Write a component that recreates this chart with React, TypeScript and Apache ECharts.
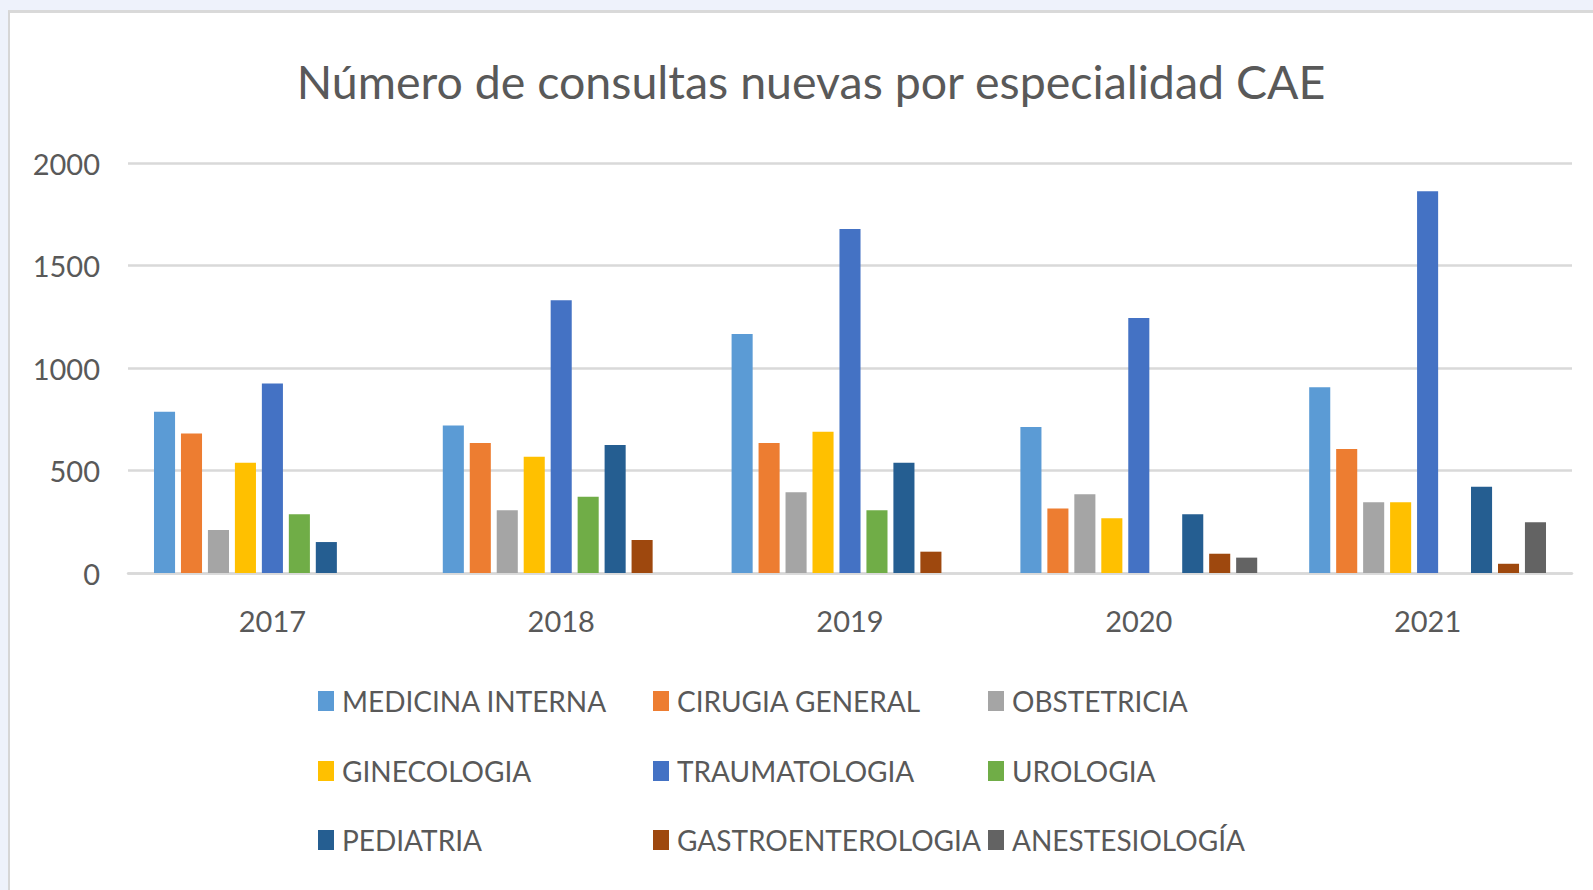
import React, { useEffect, useRef } from "react";
import * as echarts from "echarts";

const years = ["2017", "2018", "2019", "2020", "2021"];
const seriesNames = [
  "MEDICINA INTERNA",
  "CIRUGIA GENERAL",
  "OBSTETRICIA",
  "GINECOLOGIA",
  "TRAUMATOLOGIA",
  "UROLOGIA",
  "PEDIATRIA",
  "GASTROENTEROLOGIA",
  "ANESTESIOLOGÍA",
];
const medicinaInterna = [787, 720, 1166, 712, 906];
const cirugiaGeneral = [681, 634, 634, 315, 605];
const obstetricia = [210, 306, 394, 384, 345];
const ginecologia = [538, 567, 689, 267, 345];
const traumatologia = [925, 1330, 1678, 1244, 1862];
const urologia = [286, 372, 306, null, null];
const pediatria = [151, 624, 538, 286, 421];
const gastroenterologia = [null, 161, 104, 94, 45];
const anestesiologia = [null, null, null, 75, 247];
const yTicks = [0, 500, 1000, 1500, 2000];

const seriesData = [
  medicinaInterna,
  cirugiaGeneral,
  obstetricia,
  ginecologia,
  traumatologia,
  urologia,
  pediatria,
  gastroenterologia,
  anestesiologia,
];
const colors = [
  "#5B9BD5",
  "#ED7D31",
  "#A5A5A5",
  "#FFC000",
  "#4472C4",
  "#70AD47",
  "#255E91",
  "#9E480E",
  "#636363",
];

const FONT = "Lato, 'Open Sans', sans-serif";
const TXT = "#595959";

const legendCols = [318, 653, 988];
const legendRows = [687, 757, 826];

export default function App() {
  const ref = useRef<HTMLDivElement>(null);
  useEffect(() => {
    document.body.style.margin = "0";
    if (!ref.current) return;
    const chart = echarts.init(ref.current, null, { renderer: "svg" });
    const legends = seriesNames.map((name, i) => ({
      orient: "horizontal",
      left: legendCols[i % 3],
      top: legendRows[Math.floor(i / 3)],
      padding: 0,
      itemWidth: 16,
      itemHeight: 20,
      icon: "rect",
      textStyle: { fontFamily: FONT, fontSize: 28, color: TXT, padding: [0, 0, 0, 3] },
      selectedMode: false,
      data: [name],
    }));
    chart.setOption({
      animation: false,
      color: colors,
      graphic: [
        {
          type: "text",
          x: 811,
          y: 81,
          style: {
            text: "Número de consultas nuevas por especialidad CAE",
            textAlign: "center",
            textVerticalAlign: "middle",
            fontFamily: FONT,
            fontSize: 46.5,
            fill: TXT,
          },
        },
      ],
      legend: legends,
      grid: { left: 128, right: 21, top: 163, bottom: 317, containLabel: false },
      xAxis: {
        type: "category",
        data: years,
        axisLine: { lineStyle: { color: "#d9d9d9", width: 2.5 } },
        axisTick: { show: false },
        axisLabel: { fontFamily: FONT, fontSize: 29, color: TXT, margin: 33 },
      },
      yAxis: {
        type: "value",
        min: yTicks[0],
        max: yTicks[yTicks.length - 1],
        interval: 500,
        axisLine: { show: false },
        axisTick: { show: false },
        splitLine: { lineStyle: { color: "#d9d9d9", width: 2.5 } },
        axisLabel: {
          fontFamily: FONT,
          fontSize: 29,
          color: TXT,
          margin: 28,
          formatter: (v: number) => String(v),
        },
      },
      series: seriesNames.map((name, i) => ({
        name,
        type: "bar",
        data: seriesData[i],
        barGap: "28%",
        barCategoryGap: "18%",
        itemStyle: { color: colors[i] },
      })),
    });
    return () => chart.dispose();
  }, []);
  return (
    <div style={{ position: "relative", width: 1593, height: 890, background: "#eef2fb", overflow: "hidden" }}>
      <div
        style={{
          position: "absolute",
          left: 8,
          top: 10,
          width: 1600,
          height: 900,
          background: "#ffffff",
          borderLeft: "2px solid #d6d6d6",
          borderTop: "3px solid #d9d9d9",
        }}
      />
      <div ref={ref} style={{ position: "absolute", left: 0, top: 0, width: 1593, height: 890 }} />
    </div>
  );
}
